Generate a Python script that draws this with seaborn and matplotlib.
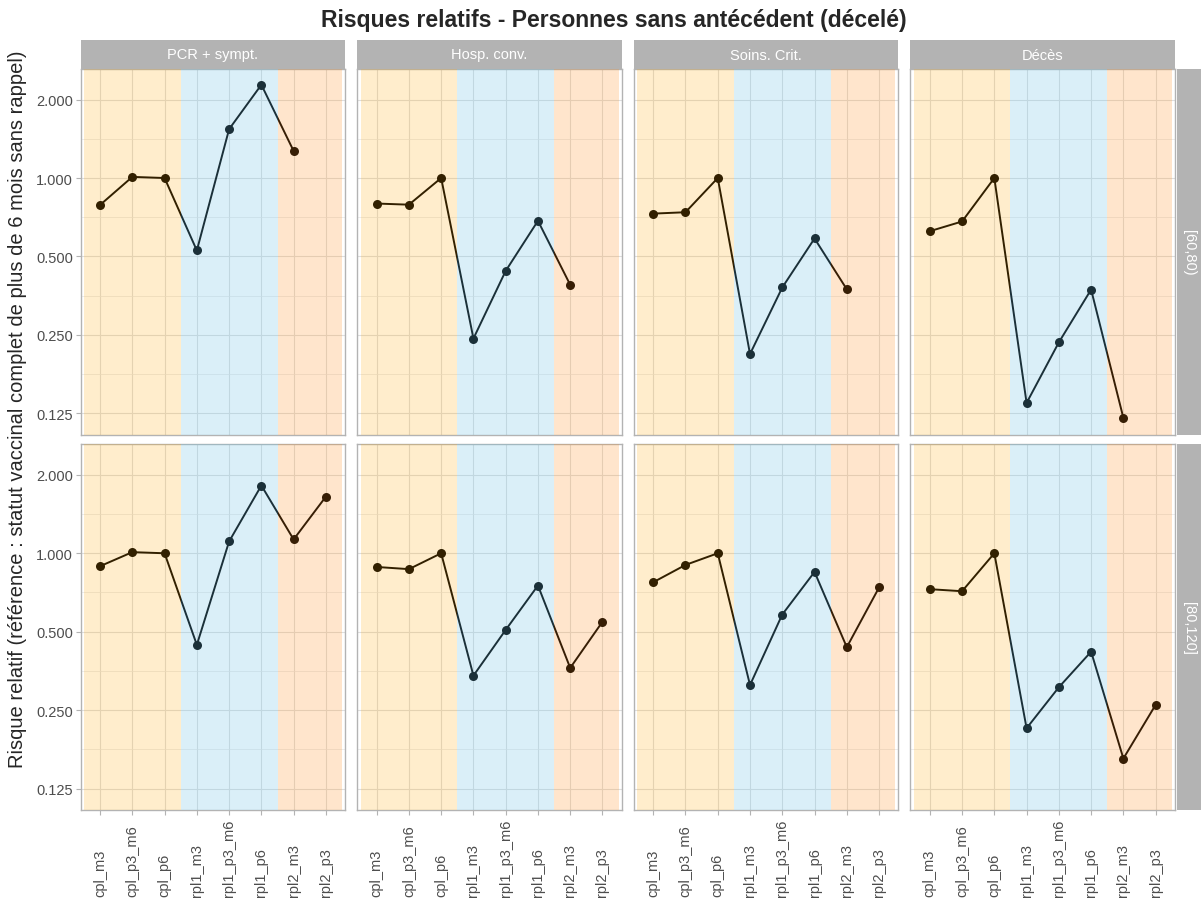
import numpy as np
import pandas as pd
import matplotlib
matplotlib.use("Agg")
import matplotlib.pyplot as plt
import matplotlib.transforms as mtransforms
from matplotlib.patches import Rectangle
from matplotlib.ticker import FixedLocator, FixedFormatter, NullFormatter
import seaborn as sns

# ---- data -------------------------------------------------------------
statuts = ["cpl_m3", "cpl_p3_m6", "cpl_p6", "rpl1_m3", "rpl1_p3_m6",
           "rpl1_p6", "rpl2_m3", "rpl2_p3"]
issues = ["PCR + sympt.", "Hosp. conv.", "Soins. Crit.", "Décès"]
ages = ["[60,80)", "[80,120]"]

# relative risks, age band [60,80)
rr_60_pcr = [0.788, 1.01, 1.0, 0.527, 1.54, 2.28, 1.27, np.nan]
rr_60_hosp = [0.798, 0.790, 1.0, 0.242, 0.440, 0.685, 0.389, np.nan]
rr_60_crit = [0.730, 0.739, 1.0, 0.211, 0.380, 0.586, 0.374, np.nan]
rr_60_deces = [0.625, 0.681, 1.0, 0.137, 0.234, 0.373, 0.120, np.nan]

# relative risks, age band [80,120]
rr_80_pcr = [0.892, 1.01, 1.0, 0.445, 1.11, 1.82, 1.13, 1.65]
rr_80_hosp = [0.886, 0.869, 1.0, 0.339, 0.508, 0.752, 0.363, 0.546]
rr_80_crit = [0.774, 0.902, 1.0, 0.312, 0.582, 0.848, 0.436, 0.739]
rr_80_deces = [0.728, 0.715, 1.0, 0.213, 0.306, 0.419, 0.163, 0.262]

series = {
    ("[60,80)", "PCR + sympt."): rr_60_pcr,
    ("[60,80)", "Hosp. conv."): rr_60_hosp,
    ("[60,80)", "Soins. Crit."): rr_60_crit,
    ("[60,80)", "Décès"): rr_60_deces,
    ("[80,120]", "PCR + sympt."): rr_80_pcr,
    ("[80,120]", "Hosp. conv."): rr_80_hosp,
    ("[80,120]", "Soins. Crit."): rr_80_crit,
    ("[80,120]", "Décès"): rr_80_deces,
}

rows = []
for (age, issue), vals in series.items():
    for s, v in zip(statuts, vals):
        rows.append({"age": age, "issue": issue, "statut": s, "rr": v})
df = pd.DataFrame(rows).dropna()
df["pos"] = pd.Categorical(df["statut"], categories=statuts).codes

# shaded vaccination-status groups
groups = [("cpl", "#FFA500", 0.20), ("rpl1", "#6EC3E6", 0.25), ("rpl2", "#FF8C1A", 0.22)]

yticks = [0.125, 0.25, 0.5, 1.0, 2.0]
ytick_labels = ["0.125", "0.250", "0.500", "1.000", "2.000"]

# ---- style ------------------------------------------------------------
sns.set_style("white")
plt.rcParams["font.family"] = ["Liberation Sans", "DejaVu Sans"]

W, H = 1203, 903
g = sns.FacetGrid(df, row="age", col="issue", row_order=ages, col_order=issues,
                  sharex=True, sharey=True, height=4, aspect=0.72, despine=False)
g.map_dataframe(sns.lineplot, x="pos", y="rr", color="black", marker="o",
                markersize=6.5, markeredgewidth=0, linewidth=1.4,
                estimator=None, errorbar=None)

fig = g.figure
fig.set_size_inches(W / 100, H / 100)
fig.set_dpi(100)
fig.subplots_adjust(left=80.7 / W, right=1175 / W, bottom=1 - 811.5 / H,
                    top=1 - 70 / H, wspace=12 / 264, hspace=9 / 366)

grey70 = "#B3B3B3"
minor_y = [2 ** (k + 0.5) for k in range(-4, 2)]

# shared scales: set once, they propagate to every facet
ax0 = g.axes[0, 0]
ax0.set_yscale("log", base=2)
ax0.set_ylim(2 ** -3.28, 2 ** 1.39)
ax0.set_xlim(-0.6, len(statuts) - 0.4)
ax0.yaxis.set_major_locator(FixedLocator(yticks))
ax0.yaxis.set_major_formatter(FixedFormatter(ytick_labels))
ax0.yaxis.set_minor_locator(FixedLocator(minor_y))
ax0.yaxis.set_minor_formatter(NullFormatter())
ax0.xaxis.set_major_locator(FixedLocator(list(range(len(statuts)))))
ax0.xaxis.set_major_formatter(NullFormatter())

for i, age in enumerate(ages):
    for j, issue in enumerate(issues):
        ax = g.axes[i, j]
        ax.set_title("")
        ax.set_xlabel("")
        ax.set_ylabel("")
        ax.set_axisbelow(True)
        ax.grid(which="major", color="#DEDEDE", linewidth=0.8)
        ax.grid(which="minor", axis="y", color="#E6E6E6", linewidth=0.5)
        ax.tick_params(axis="both", which="major", color=grey70, length=3.5,
                       width=0.8, labelcolor="#4D4D4D", labelsize=10.5, pad=2)
        ax.tick_params(axis="y", which="minor", length=0)
        ax.tick_params(axis="y", left=(j == 0), labelleft=(j == 0))
        ax.tick_params(axis="x", bottom=(i == len(ages) - 1), labelbottom=False)
        for sp in ax.spines.values():
            sp.set_color(grey70)
            sp.set_linewidth(1.0)
        # translucent group bands laid over the series
        for name, col, alpha in groups:
            idx = [k for k, s in enumerate(statuts) if s.split("_")[0] == name]
            ax.axvspan(min(idx) - 0.5, max(idx) + 0.5, color=col, alpha=alpha,
                       lw=0, zorder=3)
        # category labels on the bottom row, bottom-aligned
        if i == len(ages) - 1:
            tr = mtransforms.blended_transform_factory(ax.transData, fig.transFigure)
            for k, s in enumerate(statuts):
                ax.text(k, 5.5 / H, s, transform=tr, rotation=90, ha="center",
                        va="bottom", fontsize=10.5, color="#4D4D4D")

# strips
strip_h = 29 / H
for j, issue in enumerate(issues):
    pos = g.axes[0, j].get_position()
    fig.add_artist(Rectangle((pos.x0, pos.y1), pos.width, strip_h,
                             transform=fig.transFigure, facecolor=grey70,
                             edgecolor="none"))
    fig.text(pos.x0 + pos.width / 2, pos.y1 + strip_h / 2, issue, color="white",
             ha="center", va="center", fontsize=10.5)

strip_w = 24 / W
for i, age in enumerate(ages):
    pos = g.axes[i, -1].get_position()
    x0 = pos.x1 + 2 / W
    fig.add_artist(Rectangle((x0, pos.y0), strip_w, pos.height,
                             transform=fig.transFigure, facecolor=grey70,
                             edgecolor="none"))
    fig.text(x0 + strip_w / 2, pos.y0 + pos.height / 2, age, color="white",
             ha="center", va="center", rotation=270, fontsize=10.5)

fig.text(613.5 / W, 1 - 20 / H,
         "Risques relatifs - Personnes sans antécédent (décelé)",
         ha="center", va="center", fontsize=16.5, fontweight="bold")
fig.text(18 / W, 1 - 409 / H,
         "Risque relatif (référence : statut vaccinal complet de plus de 6 mois sans rappel)",
         ha="center", va="center", rotation=90, fontsize=14.5)

fig.savefig("out.png", dpi=100)
